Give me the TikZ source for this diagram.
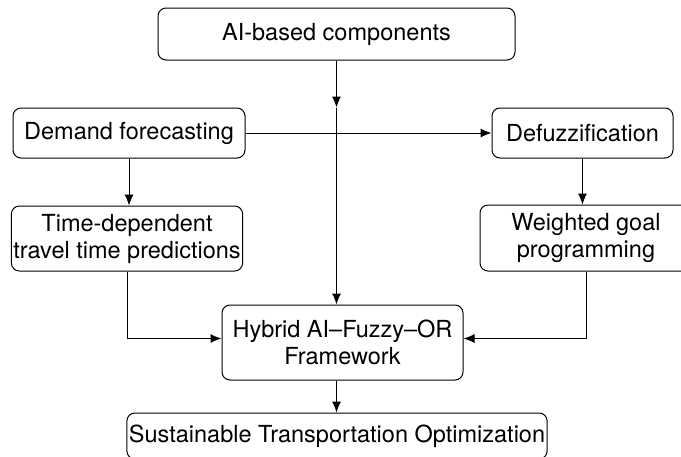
\documentclass[tikz,border=0pt]{standalone}
\usepackage{fontspec}
\setmainfont{TeX Gyre Heros}
\usepackage{tikz}
\usetikzlibrary{positioning, arrows.meta, calc}

\begin{document}
\begin{tikzpicture}[
    % GLOBAL CFG
    x=1pt, y=-1pt,
    font=\fontsize{23.5}{27}\selectfont,
    >={Latex[length=11pt,width=9pt]},
    % Styles
    box/.style={% For all the boxes
        rectangle,
        rounded corners=8pt,
        draw,
        line width=1pt,
        align=center,
        inner sep=2pt,
        },
    ArrowC1/.style={% Plain connectors
        line width=1pt,
        },
    ]

    % Page frame
    \useasboundingbox (0,0) rectangle (681,456);

    % Draw the boxes
    \node [box, minimum width=357pt, minimum height=52pt] (ai) at (336.5,34) {AI-based components};
    \node [box, minimum width=232pt, minimum height=50pt] (demand) at (129,133) {Demand forecasting};
    \node [box, minimum width=181pt, minimum height=50pt] (defuzz) at (582.5,133) {Defuzzification};
    \node [box, minimum width=228pt, minimum height=65pt] (timedep) at (127,238.5) {Time-dependent\\travel time predictions};
    \node [box, minimum width=212pt, minimum height=66pt] (weighted) at (586,238) {Weighted goal\\programming};
    \node [box, minimum width=241pt, minimum height=75pt] (hybrid) at (342.5,342.5) {Hybrid AI--Fuzzy--OR\\Framework};
    \node [box, minimum width=420pt, minimum height=46pt] (sustain) at (337,436) {Sustainable Transportation Optimization};

    % Helper point where the AI arrow meets the upper row
    \coordinate (aimid) at (ai.south |- demand.north);

    % Connecting all.
    \draw [->, ArrowC1] (ai) -- (aimid);
    \draw [->, ArrowC1] (aimid) -- (aimid |- hybrid.north);
    \draw [->, ArrowC1] (demand) -- (defuzz);
    \draw [->, ArrowC1] (demand) -- (demand |- timedep.north);
    \draw [->, ArrowC1] (defuzz) -- (defuzz |- weighted.north);
    \draw [->, ArrowC1] (timedep) |- ($(hybrid.west)+(0,-4)$);
    \draw [->, ArrowC1] (weighted) |- ($(hybrid.east)+(0,-4)$);
    \draw [->, ArrowC1] (hybrid.south -| aimid) -- (aimid |- sustain.north);
\end{tikzpicture}
\end{document}
